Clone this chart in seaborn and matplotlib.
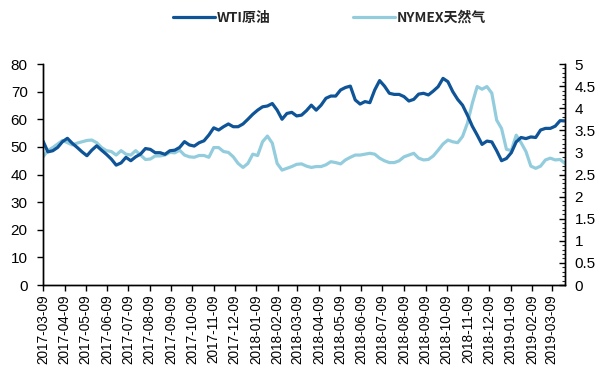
import matplotlib
matplotlib.use("Agg")
import matplotlib.pyplot as plt
import matplotlib.dates as mdates
from matplotlib.ticker import MultipleLocator, FixedLocator
import numpy as np
import pandas as pd
import seaborn as sns

# Weekly prices: WTI crude (USD/bbl, left axis) and NYMEX natural gas (USD/MMBtu, right axis)
start_date = "2017-03-09"
n_weeks = 108

wti = [
    52.1, 48.2, 48.6, 49.8, 51.9, 53.1, 51.3, 49.8, 48.2, 46.8,
    48.8, 50.4, 48.8, 47.3, 45.6, 43.4, 44.2, 46.2, 45.0, 46.4,
    47.4, 49.4, 49.1, 47.9, 47.9, 47.3, 48.6, 48.8, 49.8, 51.9,
    50.7, 50.3, 51.5, 52.2, 54.3, 56.9, 56.1, 57.3, 58.3, 57.3,
    57.3, 58.3, 60.0, 61.8, 63.3, 64.5, 64.8, 65.7, 63.3, 60.0,
    62.1, 62.5, 61.2, 61.5,
    63.1, 65.1, 63.3, 65.1, 67.6, 68.4, 68.4, 70.6, 71.5, 72.0,
    67.0, 65.5, 66.4, 66.0, 70.6, 74.0, 72.0, 69.4, 69.0, 69.0,
    68.2, 66.6, 67.2, 69.1, 69.4, 68.8, 70.2, 71.8, 74.8, 73.6,
    70.0, 67.2, 65.1, 61.5, 57.5, 54.3, 50.9, 52.1, 51.8, 48.6,
    45.0, 45.8, 47.9, 51.8, 53.4, 53.0, 53.6, 53.4, 56.1, 56.7,
    56.7, 57.5, 59.5, 59.4,
]

natgas = [
    2.90, 3.04, 3.11, 3.19, 3.27, 3.22, 3.17, 3.21, 3.24, 3.27,
    3.28, 3.22, 3.11, 3.04, 3.02, 2.94, 3.04, 2.96, 2.94, 3.04,
    2.94, 2.84, 2.85, 2.92, 2.92, 2.94, 3.00, 2.99, 3.05, 2.94,
    2.90, 2.89, 2.93, 2.93, 2.89, 3.11, 3.11, 3.02, 3.00, 2.90,
    2.75, 2.66, 2.75, 2.96, 2.93, 3.24, 3.37, 3.21, 2.75, 2.60,
    2.64, 2.68, 2.73, 2.74,
    2.69, 2.66, 2.68, 2.68, 2.72, 2.79, 2.77, 2.74, 2.83, 2.89,
    2.94, 2.94, 2.96, 2.98, 2.96, 2.87, 2.81, 2.77, 2.77, 2.81,
    2.90, 2.94, 2.98, 2.87, 2.83, 2.84, 2.92, 3.05, 3.19, 3.28,
    3.24, 3.22, 3.36, 3.66, 4.11, 4.49, 4.43, 4.49, 4.34, 3.73,
    3.54, 3.07, 3.04, 3.39, 3.22, 3.02, 2.69, 2.64, 2.69, 2.83,
    2.87, 2.83, 2.84, 2.75,
]

series_names = ["WTI原油", "NYMEX天然气"]
left_ticks = [0, 10, 20, 30, 40, 50, 60, 70, 80]
right_ticks = [0, 0.5, 1, 1.5, 2, 2.5, 3, 3.5, 4, 4.5, 5]
right_tick_labels = ["0", "0.5", "1", "1.5", "2", "2.5", "3", "3.5", "4", "4.5", "5"]

dates = pd.date_range(start_date, periods=n_weeks, freq="7D")
tick_dates = [pd.Timestamp(start_date) + pd.DateOffset(months=i) for i in range(25)]
df = pd.DataFrame({"date": dates, "wti": wti, "gas": natgas})

sns.set_theme(style="ticks")
plt.rcParams["font.family"] = ["Liberation Sans", "Noto Sans CJK SC", "DejaVu Sans"]
plt.rcParams["axes.linewidth"] = 1.0

dark_blue = "#0E5497"
light_blue = "#93CDDD"

fig = plt.figure(figsize=(5.99, 3.73), dpi=100)
ax = fig.add_axes([0.0718, 0.2359, 0.8714, 0.5925])
ax2 = ax.twinx()

sns.lineplot(data=df, x="date", y="wti", ax=ax, color=dark_blue, linewidth=2.3,
             label=series_names[0], legend=False)
sns.lineplot(data=df, x="date", y="gas", ax=ax2, color=light_blue, linewidth=2.3,
             label=series_names[1], legend=False)
ax.set_zorder(ax2.get_zorder() + 1)
ax.patch.set_visible(False)

ax.set_xlim(pd.Timestamp(start_date), dates[-1])
ax.set_ylim(0, 80)
ax2.set_ylim(0, 5)
ax.set_xlabel("")
ax.set_ylabel("")
ax2.set_ylabel("")

ax.xaxis.set_major_locator(FixedLocator(mdates.date2num(tick_dates)))
ax.xaxis.set_major_formatter(mdates.DateFormatter("%Y-%m-%d"))
ax.set_yticks(left_ticks)
ax2.set_yticks(right_ticks)
ax2.set_yticklabels(right_tick_labels)
ax2.yaxis.set_minor_locator(MultipleLocator(0.1))

for a in (ax, ax2):
    a.spines["top"].set_visible(False)
    for sp in a.spines.values():
        sp.set_color("black")

ax.tick_params(axis="x", direction="out", length=4, width=1, labelsize=9.8,
               labelrotation=90, pad=3, colors="black")
ax.tick_params(axis="y", direction="out", length=4, width=1, labelsize=11,
               pad=7, colors="black")
ax2.tick_params(axis="y", which="major", direction="in", length=4, width=1,
                labelsize=11, pad=7, colors="black")
ax2.tick_params(axis="y", which="minor", direction="in", length=2.5, width=0.8)

h1, l1 = ax.get_legend_handles_labels()
h2, l2 = ax2.get_legend_handles_labels()
fig.legend(h1 + h2, l1 + l2, loc="upper center", bbox_to_anchor=(0.55, 1.005),
           ncol=2, frameon=False, handlelength=3.0, handletextpad=0.1,
           columnspacing=6.0, prop={"family": ["Noto Sans CJK SC"], "weight": "bold", "size": 10})

fig.savefig("out.png", dpi=100)
